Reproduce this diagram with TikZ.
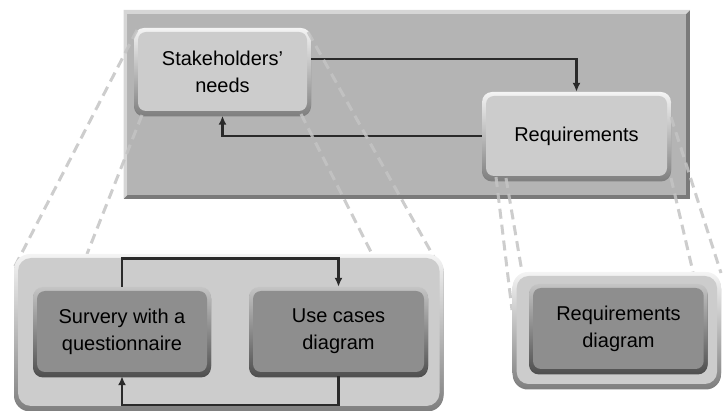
\documentclass[tikz,border=0pt]{standalone}
\usepackage{fontspec}
\setmainfont{Liberation Sans}
\usetikzlibrary{arrows.meta}
\pgfdeclarelayer{lyA}\pgfdeclarelayer{lyB}\pgfdeclarelayer{lyC}\pgfdeclarelayer{lyD}
\pgfsetlayers{lyA,lyB,lyC,lyD,main}
\definecolor{bigface}{HTML}{B4B4B4}
\definecolor{biglight}{HTML}{D6D6D6}
\definecolor{bigdark}{HTML}{7A7A7A}
\definecolor{lface}{HTML}{CCCCCC}
\definecolor{llight}{HTML}{F4F4F4}
\definecolor{ldark}{HTML}{808080}
\definecolor{dface}{HTML}{8E8E8E}
\definecolor{dlight}{HTML}{C4C4C4}
\definecolor{ddark}{HTML}{505050}
\definecolor{dashgray}{HTML}{C4C4C4}
\definecolor{arrowcol}{HTML}{2A2A2A}
% #1 x1, #2 y1, #3 x2, #4 y2 (outer, pixel coords), #5 outer radius, #6 inner radius, #7 light, #8 dark, #9 face
\newcommand\mybev[9]{%
  \fill[#8,rounded corners=#5] (#1,#2+1.5) rectangle (#3,#4+1.5);
  \shade[top color=#7,bottom color=#8,rounded corners=#5] (#1,#2) rectangle (#3,#4);
  \fill[#9,rounded corners=#6] (#1+4,#2+4) rectangle (#3-4,#4-4);
}
\tikzset{
  txt/.style={align=center,inner sep=0pt,text=black,font=\fontsize{20}{27}\selectfont},
  arr/.style={draw=arrowcol,line width=2.6pt,-{Latex[length=9pt,width=8pt]}},
  zoomline/.style={draw=dashgray,opacity=0.85,line width=3pt,dash pattern=on 10pt off 6pt}
}
\begin{document}
\begin{tikzpicture}[x=1pt,y=-1pt]
\useasboundingbox (0,0) rectangle (723,411);
% text nodes
\node[txt,minimum width=169pt,minimum height=79pt] (stake) at (222.5,72) {Stakeholders’\\needs};
\node[txt,minimum width=181pt,minimum height=80pt] (req) at (576.5,136) {Requirements};
\node[txt,minimum width=170pt,minimum height=81pt] (surv) at (122,331.5) {Survery with a\\questionnaire};
\node[txt,minimum width=171pt,minimum height=81pt] (use) at (338.5,331.5) {Use cases\\diagram};
\node[txt,minimum width=171pt,minimum height=81pt] (reqd) at (618.5,328.5) {Requirements\\diagram};
% big rectangle
\begin{pgfonlayer}{lyA}
  \fill[bigdark] (123.5,10) rectangle (690,199);
  \fill[biglight] (123.5,199) -- (123.5,10) -- (690,10) -- (686,14) -- (127.5,14) -- (127.5,195) -- cycle;
  \fill[bigface] (127.5,14) rectangle (686,195);
\end{pgfonlayer}
% upper boxes and arrows
\begin{pgfonlayer}{lyB}
  \mybev{134}{28}{311}{115}{10pt}{8pt}{llight}{ldark}{lface}
  \mybev{482}{92}{671}{180}{10pt}{8pt}{llight}{ldark}{lface}
  \draw[arr] ([xshift=4pt,yshift=13pt]stake.east) -| ([yshift=4pt]req.north);
  \draw[arr] ([xshift=-4pt]req.west) -| ([yshift=-4pt]stake.south);
\end{pgfonlayer}
% zoom lines
\begin{pgfonlayer}{lyC}
  \draw[zoomline] (137,30) -- (14,268);
  \draw[zoomline] (142,115) -- (87,254);
  \draw[zoomline] (308,32) -- (440,268);
  \draw[zoomline] (301,114) -- (372,254);
  \draw[zoomline] (496,177) -- (512,310);
  \draw[zoomline] (506,178) -- (522,272);
  \draw[zoomline] (671,178) -- (693,272);
  \draw[zoomline] (671,117) -- (721,273);
\end{pgfonlayer}
% lower containers and boxes
\begin{pgfonlayer}{lyD}
  \mybev{14}{254}{443.5}{410}{16pt}{13pt}{llight}{ldark}{lface}
  \mybev{512.7}{272}{721}{388}{15pt}{12pt}{llight}{ldark}{lface}
  \mybev{33}{287}{211}{376}{10pt}{8pt}{dlight}{ddark}{dface}
  \mybev{249}{287}{428}{376}{10pt}{8pt}{dlight}{ddark}{dface}
  \mybev{529}{284}{707.7}{373}{10pt}{8pt}{dlight}{ddark}{dface}
\end{pgfonlayer}
% lower arrows
\draw[arr] ([yshift=4pt]surv.north) -- ([yshift=32pt]surv.north) -| ([yshift=4pt]use.north);
\draw[arr] ([yshift=-4pt]use.south) -- ([yshift=-33pt]use.south) -| ([yshift=-4pt]surv.south);
\end{tikzpicture}
\end{document}
